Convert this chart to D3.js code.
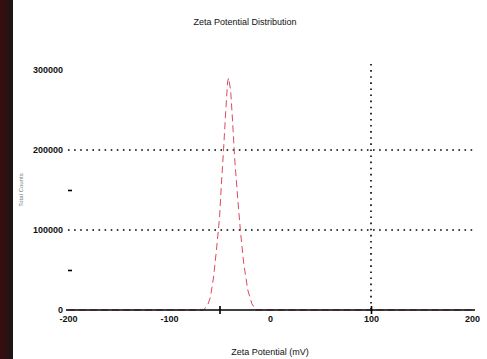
<!DOCTYPE html>
<meta charset="utf-8">
<style>
body { margin: 0; background: #fff; }
text { font-family: "Liberation Sans Narrow", "Liberation Sans", sans-serif; fill: #111; }
.axis path { stroke: #000; stroke-width: 1.6; }
.axis line { stroke: #000; stroke-width: 1.6; }
.axis text { font-size: 9px; font-weight: bold; }
.grid { stroke: #000; stroke-width: 1.6; stroke-dasharray: 1.6,4.5; }
.curve { fill: none; stroke: #dc4a60; stroke-width: 1; stroke-dasharray: 7,4; }
</style>
<svg width="487" height="359"></svg>
<script src="https://cdn.jsdelivr.net/npm/d3@7"></script>
<script>

// zeta potential (mV) and total counts
var zeta   = [-200, -66, -62, -59, -56, -53, -50, -48, -46, -44, -42, -41, -39, -37, -35, -32, -29, -26, -22, -18, -14, 200];
var counts = [0, 0, 5000, 16000, 40000, 75000, 115000, 160000, 200000, 245000, 285000, 290000, 275000, 235000, 190000, 140000, 95000, 58000, 25000, 8000, 0, 0];

var xTicks = [-200, -100, 0, 100, 200];
var xMarks = [-50, 100];
var yTicks = [0, 100000, 200000, 300000];
var yMinor = [50000, 150000];
var gridY = [100000, 200000];
var gridX = [100];

var svg = d3.select("svg");

// dark strip on the left edge of the scan
var grad = svg.append("defs").append("linearGradient").attr("id", "edge");
grad.append("stop").attr("offset", "0%").attr("stop-color", "#3a0d10");
grad.append("stop").attr("offset", "100%").attr("stop-color", "#1c1414");
svg.append("rect").attr("x", 0).attr("y", 0).attr("width", 13).attr("height", 359).attr("fill", "url(#edge)");

var x = d3.scaleLinear().domain([-200, 200]).range([68, 472]),
    y = d3.scaleLinear().domain([0, 300000]).range([310, 70]);

var plain = function(d) { return String(d); };

// dotted grid
svg.selectAll(".gy").data(gridY).enter().append("line")
    .attr("class", "grid")
    .attr("x1", x(-200)).attr("x2", x(200) + 3)
    .attr("y1", function(d) { return y(d); }).attr("y2", function(d) { return y(d); });

svg.selectAll(".gx").data(gridX).enter().append("line")
    .attr("class", "grid")
    .attr("x1", function(d) { return x(d); }).attr("x2", function(d) { return x(d); })
    .attr("y1", y(300000) - 6).attr("y2", y(0));

// distribution curve
var line = d3.line()
    .x(function(d, i) { return x(zeta[i]); })
    .y(function(d) { return y(d); });

svg.append("path")
    .datum(counts)
    .attr("class", "curve")
    .attr("d", line);

// x axis
svg.append("g")
    .attr("class", "axis")
    .attr("transform", "translate(0," + y(0) + ")")
    .call(d3.axisBottom(x).tickValues(xTicks).tickSize(0).tickPadding(6).tickFormat(plain))
    .call(function(g) { g.select(".domain").attr("d", "M" + (x(-200) - 2) + ",0H" + (x(200) + 3)); });

svg.append("g")
    .attr("class", "axis")
    .attr("transform", "translate(0," + (y(0) - 4) + ")")
    .call(d3.axisBottom(x).tickValues(xMarks).tickSize(8).tickFormat(""))
    .call(function(g) { g.select(".domain").remove(); });

// y axis
svg.append("g")
    .attr("class", "axis")
    .attr("transform", "translate(" + (x(-200) - 3) + ",0)")
    .call(d3.axisLeft(y).tickValues(yTicks).tickSize(0).tickPadding(2).tickFormat(plain))
    .call(function(g) { g.select(".domain").remove(); });

svg.append("g")
    .attr("class", "axis")
    .attr("transform", "translate(" + (x(-200) + 4) + ",0)")
    .call(d3.axisLeft(y).tickValues(yMinor).tickSize(4).tickFormat(""))
    .call(function(g) { g.select(".domain").remove(); });

// titles
svg.append("text")
    .attr("x", 245).attr("y", 25)
    .attr("text-anchor", "middle")
    .style("font-size", "9px")
    .text("Zeta Potential Distribution");

svg.append("text")
    .attr("x", 270).attr("y", 355)
    .attr("text-anchor", "middle")
    .style("font-size", "9px")
    .text("Zeta Potential (mV)");

svg.append("text")
    .attr("transform", "translate(23,190) rotate(-90)")
    .attr("text-anchor", "middle")
    .style("font-size", "6px")
    .style("fill", "#777")
    .text("Total Counts");

</script>
